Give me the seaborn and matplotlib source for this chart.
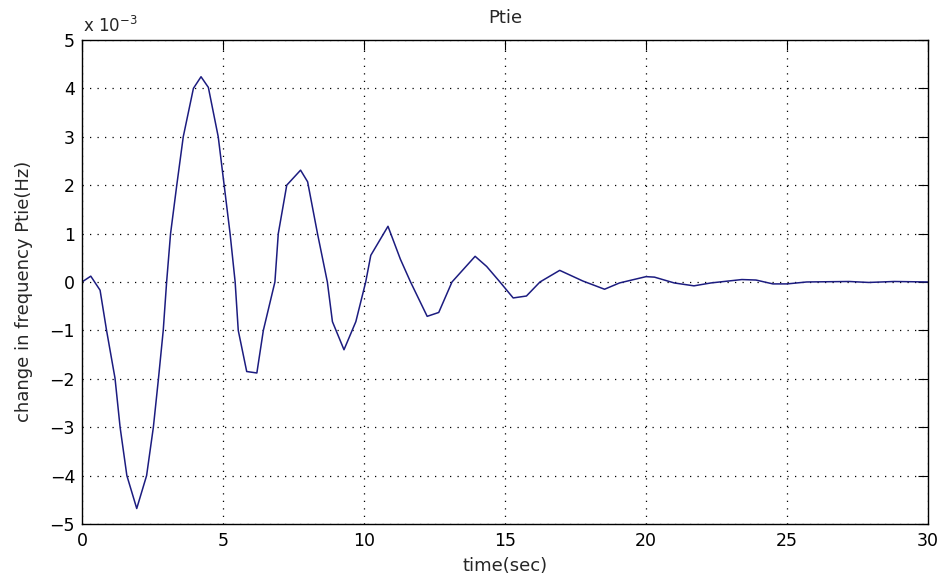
import numpy as np
import pandas as pd
import matplotlib
matplotlib.use('Agg')
import matplotlib.pyplot as plt
import seaborn as sns

sns.set_style('white')
plt.rcParams['font.family'] = ['DejaVu Sans']

# time (sec) and change in Ptie, in units of 1e-3
time_sec = [0.0, 0.31, 0.64, 0.87, 1.17, 1.35, 1.59, 1.94, 2.29, 2.53, 2.71, 2.88,
            3.0, 3.14, 3.36, 3.59, 3.95, 4.22, 4.48, 4.83, 5.04, 5.25, 5.43, 5.54,
            5.84, 6.2, 6.43, 6.84, 6.96, 7.26, 7.75, 8.0, 8.35, 8.7, 8.88, 9.29,
            9.71, 10.06, 10.24, 10.85, 11.29, 11.65, 12.24, 12.65, 13.12, 13.94,
            14.35, 14.82, 15.29, 15.76, 16.24, 16.94, 17.76, 18.53, 19.06, 20.0,
            20.3, 21.0, 21.7, 22.3, 23.4, 23.9, 24.5, 25.0, 25.7, 27.2, 27.9,
            28.8, 30.0]
ptie_e3 = [0.0, 0.12, -0.17, -1.0, -1.99, -3.0, -4.0, -4.68, -4.0, -3.0, -2.0, -1.0,
           0.0, 1.0, 2.0, 3.0, 4.0, 4.24, 4.02, 3.0, 2.0, 1.0, 0.0, -1.0,
           -1.85, -1.88, -1.0, 0.0, 1.0, 2.0, 2.31, 2.07, 1.0, 0.0, -0.82, -1.40,
           -0.82, 0.0, 0.55, 1.15, 0.47, 0.0, -0.71, -0.63, 0.0, 0.53,
           0.32, 0.0, -0.33, -0.29, 0.0, 0.24, 0.02, -0.15, -0.02, 0.11,
           0.10, -0.02, -0.08, -0.02, 0.05, 0.04, -0.04, -0.04, 0.0, 0.01, -0.01,
           0.01, 0.0]

x_ticks = [0, 5, 10, 15, 20, 25, 30]
y_ticks = [-5, -4, -3, -2, -1, 0, 1, 2, 3, 4, 5]

df = pd.DataFrame({'time': time_sec, 'ptie': ptie_e3})

fig = plt.figure(figsize=(9.45, 5.79), dpi=100)
ax = fig.add_axes([0.0868, 0.095, 0.8952, 0.836])
sns.lineplot(data=df, x='time', y='ptie', ax=ax, color='#1c1c80', linewidth=1.1)

ax.set_xlim(0, 30)
ax.set_ylim(-5, 5)
ax.set_xticks(x_ticks)
ax.set_yticks(y_ticks)
ax.tick_params(direction='in', top=True, right=True, length=7, width=0.8,
               labelsize=12.5, colors='black')
ax.tick_params(axis='x', pad=6)
ax.tick_params(axis='y', pad=5)
ax.grid(True, linestyle=(0, (1, 5)), color='black', linewidth=0.9)
for s in ax.spines.values():
    s.set_color('black')
    s.set_linewidth(1.0)

ax.set_xlabel('time(sec)', fontsize=13, va='center')
ax.xaxis.set_label_coords(0.5, -0.087)
ax.set_ylabel('change in frequency Ptie(Hz)', fontsize=13, va='center')
ax.yaxis.set_label_coords(-0.069, 0.48)
ax.text(0.5, 1.045, 'Ptie', transform=ax.transAxes, fontsize=13,
        ha='center', va='center')
ax.text(0.001, 1.0165, 'x 10$^{-3}$', transform=ax.transAxes, fontsize=12,
        ha='left', va='baseline')

fig.savefig('out.png', dpi=100)
